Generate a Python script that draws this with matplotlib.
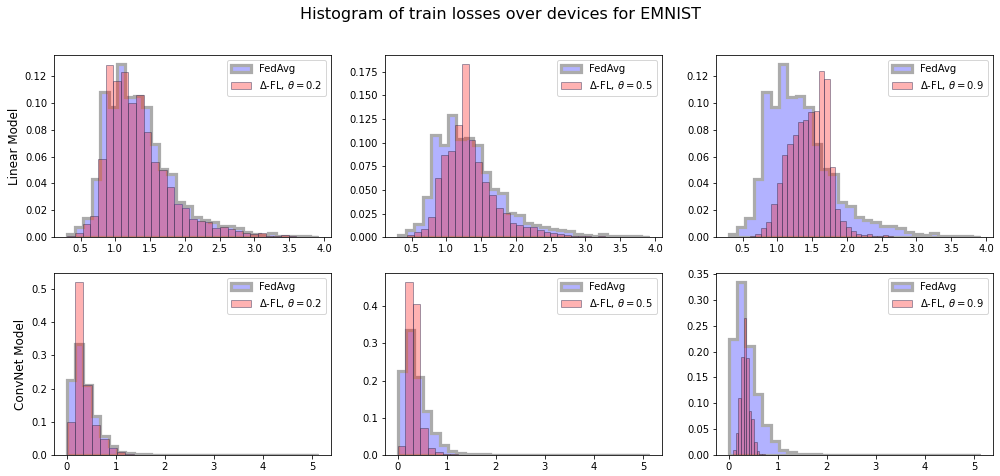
#!/usr/bin/env python3
"""Histograms of per-device train losses, FedAvg vs Delta-FL, for EMNIST."""
import numpy as np
import matplotlib
matplotlib.use("Agg")
import matplotlib.pyplot as plt

# bin ranges (30 bins each) and fraction of devices per bin
linear_fedavg_range = (0.30, 3.92)
linear_fedavg = [0.002, 0.0075, 0.014, 0.043, 0.108, 0.097, 0.129, 0.104, 0.105, 0.097,
                 0.069, 0.051, 0.047, 0.026, 0.023, 0.015, 0.013, 0.011, 0.0085, 0.008,
                 0.0065, 0.0035, 0.0025, 0.0013, 0.003, 0.001, 0.001, 0.0008, 0.0008, 0.0003]

linear_dfl_02_range = (0.313, 3.601)
linear_dfl_02 = [0.001, 0.003, 0.010, 0.016, 0.058, 0.128, 0.116, 0.123, 0.100, 0.106,
                 0.078, 0.056, 0.050, 0.037, 0.025, 0.0215, 0.0135, 0.012, 0.011, 0.007,
                 0.0075, 0.006, 0.0045, 0.003, 0.002, 0.003, 0.001, 0.001, 0.0015, 0.001]

linear_dfl_05_range = (0.439, 3.379)
linear_dfl_05 = [0.002, 0.005, 0.0085, 0.021, 0.0627, 0.0868, 0.0917, 0.119, 0.1834, 0.103,
                 0.079, 0.0588, 0.0446, 0.0305, 0.026, 0.0145, 0.0124, 0.011, 0.0103, 0.008,
                 0.005, 0.0046, 0.003, 0.002, 0.0015, 0.001, 0.001, 0.0005, 0.0015, 0.0005]

linear_dfl_09_range = (0.61, 2.895)
linear_dfl_09 = [0.001, 0.0025, 0.0065, 0.0115, 0.025, 0.040, 0.061, 0.069, 0.076, 0.0855,
                 0.087, 0.093, 0.094, 0.124, 0.118, 0.052, 0.021, 0.012, 0.0077, 0.0047,
                 0.0022, 0.0015, 0.0022, 0.001, 0.0008, 0.0015, 0.0008, 0.0003, 0.0003, 0.0003]

conv_fedavg_range = (0.0, 5.13)
conv_fedavg = [0.225, 0.335, 0.210, 0.118, 0.058, 0.028, 0.010, 0.006, 0.003, 0.002,
               0.0015, 0.001, 0.0006, 0.0004, 0.0003, 0.0002, 0.0002, 0.0001, 0.0001, 0.0001,
               0.0001, 0.0001, 0.0001, 0.0, 0.0001, 0.0, 0.0, 0.0001, 0.0, 0.0001]

conv_dfl_02_range = (0.0, 5.13)
conv_dfl_02 = [0.099, 0.522, 0.210, 0.090, 0.047, 0.020, 0.009, 0.002, 0.001, 0.0,
               0.0, 0.0, 0.0, 0.0, 0.0, 0.0, 0.0, 0.0, 0.0, 0.0,
               0.0, 0.0, 0.0, 0.0, 0.0, 0.0, 0.0, 0.0, 0.0, 0.0001]

conv_dfl_05_range = (0.0, 4.59)
conv_dfl_05 = [0.024, 0.465, 0.405, 0.072, 0.020, 0.007, 0.003, 0.0015, 0.001, 0.0005,
               0.0003, 0.0002, 0.0, 0.0, 0.0, 0.0, 0.0, 0.0, 0.0, 0.0,
               0.0, 0.0, 0.0, 0.0, 0.0, 0.0, 0.0, 0.0, 0.0, 0.0002]

conv_dfl_09_range = (0.088, 1.708)
conv_dfl_09 = [0.010, 0.043, 0.111, 0.190, 0.265, 0.188, 0.085, 0.070, 0.025, 0.008,
               0.003, 0.002, 0.0, 0.0, 0.0, 0.0, 0.0, 0.0, 0.0, 0.0,
               0.0, 0.0, 0.0, 0.0, 0.0, 0.0, 0.0, 0.0, 0.0, 0.0002]

thetas = [0.2, 0.5, 0.9]
row_labels = ["Linear Model", "ConvNet Model"]
fedavg_rows = [(linear_fedavg_range, linear_fedavg), (conv_fedavg_range, conv_fedavg)]
dfl_rows = [
    [(linear_dfl_02_range, linear_dfl_02), (linear_dfl_05_range, linear_dfl_05),
     (linear_dfl_09_range, linear_dfl_09)],
    [(conv_dfl_02_range, conv_dfl_02), (conv_dfl_05_range, conv_dfl_05),
     (conv_dfl_09_range, conv_dfl_09)],
]


def draw_hist(ax, rng, heights, **kw):
    edges = np.linspace(rng[0], rng[1], len(heights) + 1)
    ax.hist(edges[:-1], bins=edges, weights=heights, **kw)


fig, axes = plt.subplots(2, 3, figsize=(1000 / 72, 476 / 72), dpi=72)
fig.subplots_adjust(left=0.054, right=0.993, top=0.884, bottom=0.044,
                    wspace=0.195, hspace=0.198)

for r in range(2):
    for c in range(3):
        ax = axes[r, c]
        rng, h = fedavg_rows[r]
        draw_hist(ax, rng, h, histtype="stepfilled", facecolor=(0, 0, 1, 0.3),
                  edgecolor="#ababab", linewidth=3.2, label="FedAvg")
        rng, h = dfl_rows[r][c]
        draw_hist(ax, rng, h, histtype="bar", facecolor=(1, 0, 0, 0.3),
                  edgecolor=(0.2, 0.2, 0.35, 0.45), linewidth=1, rwidth=1.0,
                  label=r"$\Delta$-FL, $\theta = %.1f$" % thetas[c])
        ax.legend(loc="upper right", fontsize=10)
        if c == 0:
            ax.set_ylabel(row_labels[r], fontsize=12)

fig.suptitle("Histogram of train losses over devices for EMNIST", fontsize=16, y=0.985)
fig.savefig("out.png", dpi=72)
